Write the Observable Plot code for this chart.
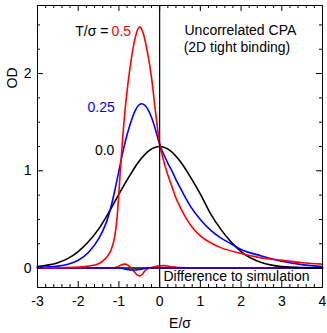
<!DOCTYPE html>
<html>
<head>
<meta charset="utf-8">
<script src="https://cdn.jsdelivr.net/npm/d3@7"></script>
<script src="https://cdn.jsdelivr.net/npm/@observablehq/plot@0.6"></script>
<style>
  html, body { margin: 0; padding: 0; background: #fff; }
</style>
</head>
<body>
<div id="chart"></div>
<script>
// ---- Data ----
// T/sigma = 0.0 (black)
const E_T00  = [-3, -2.75, -2.5, -2.25, -2, -1.75, -1.5, -1.25, -1, -0.75, -0.5, -0.25, 0, 0.25, 0.5, 0.75, 1, 1.25, 1.5, 1.75, 2, 2.25, 2.5, 2.75, 3, 3.5, 4];
const OD_T00 = [0.015, 0.03, 0.055, 0.10, 0.17, 0.27, 0.40, 0.57, 0.76, 0.94, 1.10, 1.21, 1.25, 1.21, 1.10, 0.94, 0.76, 0.56, 0.40, 0.27, 0.17, 0.10, 0.058, 0.03, 0.015, 0.004, 0.001];

// T/sigma = 0.25 (blue)
const E_T025  = [-3, -2.5, -2.25, -2, -1.75, -1.5, -1.4, -1.3, -1.2, -1.1, -1, -0.9, -0.8, -0.7, -0.6, -0.45, -0.3, -0.2, -0.1, 0, 0.1, 0.2, 0.3, 0.4, 0.5, 0.6, 0.75, 1, 1.25, 1.5, 1.75, 2, 2.5, 3, 3.5, 4];
const OD_T025 = [0.005, 0.02, 0.04, 0.08, 0.16, 0.30, 0.38, 0.48, 0.62, 0.80, 1.00, 1.20, 1.37, 1.51, 1.62, 1.69, 1.64, 1.55, 1.42, 1.27, 1.17, 1.08, 1.00, 0.91, 0.83, 0.75, 0.64, 0.50, 0.39, 0.31, 0.25, 0.19, 0.125, 0.07, 0.035, 0.015];

// T/sigma = 0.5 (red)
const E_T05  = [-3, -2.5, -2, -1.75, -1.5, -1.4, -1.3, -1.2, -1.15, -1.1, -1.05, -1, -0.95, -0.9, -0.85, -0.8, -0.7, -0.6, -0.49, -0.4, -0.3, -0.2, -0.1, 0, 0.1, 0.2, 0.3, 0.4, 0.5, 0.6, 0.7, 0.8, 1, 1.25, 1.5, 2, 2.5, 3, 3.5, 4];
const OD_T05 = [0.001, 0.003, 0.01, 0.02, 0.045, 0.07, 0.11, 0.18, 0.24, 0.33, 0.50, 0.78, 1.10, 1.38, 1.62, 1.82, 2.14, 2.37, 2.48, 2.41, 2.22, 1.96, 1.60, 1.28, 1.10, 0.96, 0.84, 0.72, 0.63, 0.55, 0.48, 0.42, 0.33, 0.26, 0.21, 0.15, 0.105, 0.08, 0.055, 0.04];

// Difference to simulation
const E_diff     = [-3, -1.2, -1.1, -1, -0.9, -0.85, -0.8, -0.75, -0.7, -0.65, -0.6, -0.55, -0.5, -0.45, -0.4, -0.35, -0.3, -0.2, -0.1, 0, 0.1, 0.2, 0.3, 0.5, 0.8, 4];
const DIFF_T00   = [0, 0, 0, 0, 0, 0, 0, 0, 0, 0, 0, 0, 0, 0, 0, 0, 0, 0, 0, 0, 0, 0, 0, 0, 0, 0];
const DIFF_T05   = [0, 0, 0.005, 0.02, 0.038, 0.04, 0.035, 0.02, 0.0, -0.025, -0.05, -0.07, -0.08, -0.072, -0.05, -0.025, -0.008, 0.005, 0.015, 0.022, 0.025, 0.02, 0.012, 0.005, 0, 0];
const DIFF_T025  = [0, 0, 0, 0, -0.005, -0.01, -0.015, -0.018, -0.02, -0.02, -0.02, -0.018, -0.015, -0.012, -0.008, -0.004, 0, 0.003, 0.003, 0.002, 0, 0, 0, 0, 0, 0];

// Ticks
const xMajorTicks = [-3, -2, -1, 0, 1, 2, 3, 4];
const xMinorTicks = d3.range(-30, 41, 2).map(d => d / 10).filter(d => !Number.isInteger(d));
const yMajorTicks = [0, 1, 2];
const yMinorTicks = [0.25, 0.5, 0.75, 1.25, 1.5, 1.75, 2.25, 2.5];

// ---- Layout ----
const W = 327, H = 333;
const mL = 37, mR = 5, mT = 5, mB = 46;
const fw = W - mL - mR, fh = H - mT - mB;

const toRows = (E, V) => E.map((e, i) => ({E: e, v: V[i]}));

const lw = 1.6;
const chart = Plot.plot({
  width: W, height: H,
  marginLeft: mL, marginRight: mR, marginTop: mT, marginBottom: mB,
  style: {fontFamily: "'Liberation Sans', Arial, Helvetica, sans-serif", fontSize: "14px", background: "#fff", color: "#000"},
  x: {domain: [-3, 4]},
  y: {domain: [-0.2, 2.7]},
  marks: [
    // difference curves
    Plot.line(toRows(E_diff, DIFF_T00), {x: "E", y: "v", stroke: "black", strokeWidth: lw, curve: "monotone-x"}),
    Plot.line(toRows(E_diff, DIFF_T05), {x: "E", y: "v", stroke: "#ff0000", strokeWidth: lw, curve: "monotone-x"}),
    Plot.line(toRows(E_diff, DIFF_T025), {x: "E", y: "v", stroke: "#0000ff", strokeWidth: lw, curve: "monotone-x"}),
    // OD curves
    Plot.line(toRows(E_T00, OD_T00), {x: "E", y: "v", stroke: "black", strokeWidth: lw, curve: "monotone-x"}),
    Plot.line(toRows(E_T025, OD_T025), {x: "E", y: "v", stroke: "#0000ff", strokeWidth: lw, curve: "monotone-x"}),
    Plot.line(toRows(E_T05, OD_T05), {x: "E", y: "v", stroke: "#ff0000", strokeWidth: lw, curve: "monotone-x"}),
    // vertical line at E = 0
    Plot.ruleX([0], {stroke: "black", strokeWidth: 1.2}),
    // inward ticks (all four sides)
    Plot.tickX(xMajorTicks, {x: d => d, insetTop: fh - 6, stroke: "black"}),
    Plot.tickX(xMinorTicks, {x: d => d, insetTop: fh - 3, stroke: "black"}),
    Plot.tickX(xMajorTicks, {x: d => d, insetBottom: fh - 6, stroke: "black"}),
    Plot.tickX(xMinorTicks, {x: d => d, insetBottom: fh - 3, stroke: "black"}),
    Plot.tickY(yMajorTicks, {y: d => d, insetRight: fw - 6, stroke: "black"}),
    Plot.tickY(yMinorTicks, {y: d => d, insetRight: fw - 3, stroke: "black"}),
    Plot.tickY(yMajorTicks, {y: d => d, insetLeft: fw - 6, stroke: "black"}),
    Plot.tickY(yMinorTicks, {y: d => d, insetLeft: fw - 3, stroke: "black"}),
    // tick labels
    Plot.axisX({ticks: xMajorTicks, tickSize: 0, tickPadding: 9, label: null, tickFormat: d => String(d), fontSize: 14}),
    Plot.axisY({ticks: yMajorTicks, tickSize: 0, tickPadding: 6, label: null, tickFormat: d => String(d), fontSize: 14}),
    // axis titles
    Plot.text(["E/σ"], {frameAnchor: "bottom", dy: 40, text: d => d, fontSize: 14}),
    Plot.text(["OD"], {frameAnchor: "top-left", dx: -30, dy: 83, rotate: -90, text: d => d, fontSize: 14}),
    // annotations
    Plot.text(["T/σ ="], {x: -1.26, y: 2.433, text: d => d, textAnchor: "end", fill: "black", fontSize: 14}),
    Plot.text(["0.5"], {x: -1.18, y: 2.433, text: d => d, textAnchor: "start", fill: "#ff0000", fontSize: 14}),
    Plot.text(["0.25"], {x: -1.77, y: 1.651, text: d => d, textAnchor: "start", fill: "#0000ff", fontSize: 14}),
    Plot.text(["0.0"], {x: -1.59, y: 1.209, text: d => d, textAnchor: "start", fill: "black", fontSize: 14}),
    Plot.text(["Uncorrelated CPA"], {x: 0.61, y: 2.443, text: d => d, textAnchor: "start", fill: "black", fontSize: 14}),
    Plot.text(["(2D tight binding)"], {x: 0.59, y: 2.268, text: d => d, textAnchor: "start", fill: "black", fontSize: 14}),
    Plot.text(["Difference to simulation"], {x: 0.095, y: -0.087, text: d => d, textAnchor: "start", fill: "black", fontSize: 14}),
    // frame
    Plot.frame({stroke: "black", strokeWidth: 1})
  ]
});
document.getElementById("chart").appendChild(chart);
</script>
</body>
</html>
